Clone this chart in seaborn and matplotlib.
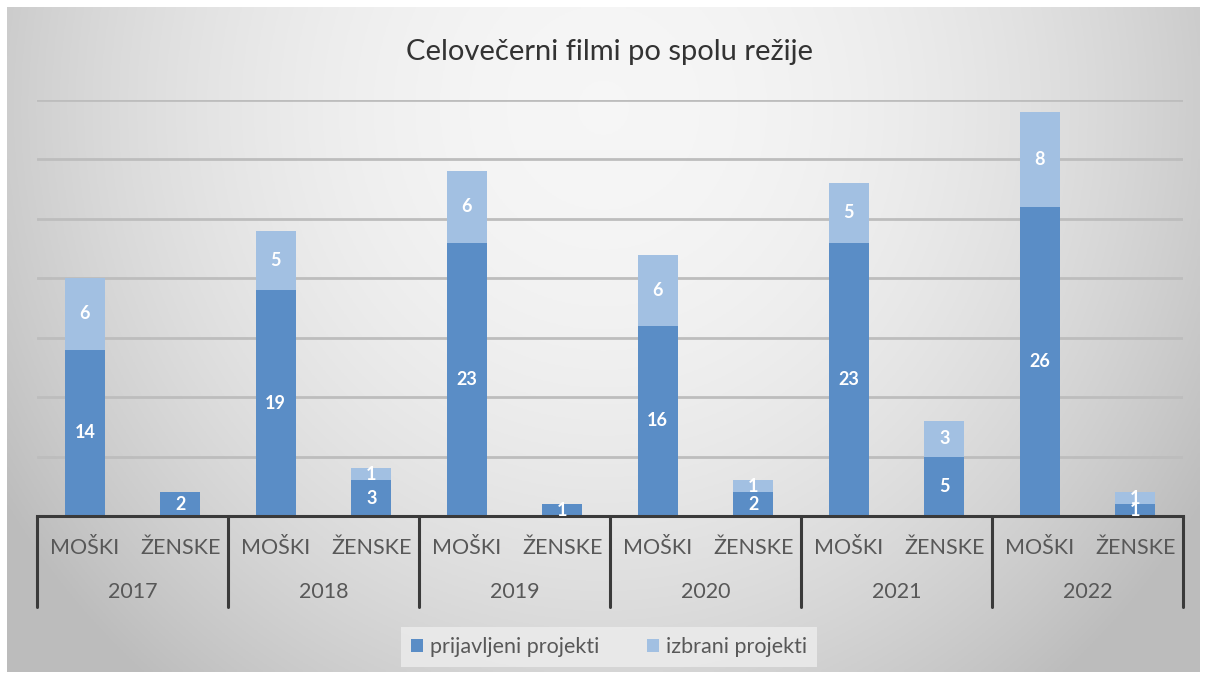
import numpy as np
import pandas as pd
import matplotlib
matplotlib.use("Agg")
import matplotlib.pyplot as plt
import seaborn as sns
from matplotlib.transforms import blended_transform_factory
from matplotlib.patches import Patch

years = ["2017", "2018", "2019", "2020", "2021", "2022"]
genders = ["MOŠKI", "ŽENSKE"]
prijavljeni = [14, 2, 19, 3, 23, 1, 16, 2, 23, 5, 26, 1]
izbrani = [6, 0, 5, 1, 6, 0, 6, 1, 5, 3, 8, 1]
title = "Celovečerni filmi po spolu režije"
series_names = ["prijavljeni projekti", "izbrani projekti"]

cats = [f"{y} {g}" for y in years for g in genders]
df = pd.DataFrame({"cat": cats, "prijavljeni": prijavljeni, "izbrani": izbrani})
df["total"] = df["prijavljeni"] + df["izbrani"]

dark = "#5A8DC6"
light = "#A2C0E2"

sns.set_theme(style="white")
plt.rcParams["font.family"] = ["Lato", "DejaVu Sans"]

W, H = 1207, 679
fig = plt.figure(figsize=(W / 100, H / 100), dpi=100, facecolor="white")

# gradient background
bg = fig.add_axes([7 / W, 7 / H, (1200 - 7) / W, (672 - 7) / H])
xx, yy = np.meshgrid(np.linspace(0, 1, 400), np.linspace(0, 1, 240))
r = np.sqrt(((xx - 0.5) / 0.5) ** 2 + ((yy - 0.15) / 0.95) ** 2)
g = np.clip(0.965 - 0.16 * r ** 2, 0.74, 1)
bg.imshow(np.dstack([g, g, g]), aspect="auto", extent=[0, 1, 0, 1], origin="upper")
bg.axis("off")

x0, x1 = 37, 1183
ybase, ytop = 516, 100
ax = fig.add_axes([x0 / W, 1 - ybase / H, (x1 - x0) / W, (ybase - ytop) / H])
ax.set_facecolor("none")

sns.barplot(data=df, x="cat", y="total", order=cats, color=light, width=0.42,
            saturation=1, ax=ax, zorder=3, edgecolor="none", linewidth=0)
sns.barplot(data=df, x="cat", y="prijavljeni", order=cats, color=dark, width=0.42,
            saturation=1, ax=ax, zorder=4, edgecolor="none", linewidth=0)

ax.set_ylim(0, 35)
ax.set_xlim(-0.5, len(cats) - 0.5)
ax.set_yticks(np.arange(0, 36, 5))
ax.yaxis.grid(True, color="#BDBDBD", linewidth=2, zorder=0)
ax.set_axisbelow(True)
ax.set_yticklabels([])
ax.tick_params(axis="y", length=0)
ax.set_xticks([])
ax.set_xlabel("")
ax.set_ylabel("")
for s in ["left", "right", "top"]:
    ax.spines[s].set_visible(False)
ax.spines["bottom"].set_color("#3A3A3A")
ax.spines["bottom"].set_linewidth(2.2)
ax.spines["bottom"].set_zorder(6)

# data labels
for i, (p, s) in enumerate(zip(prijavljeni, izbrani)):
    if p > 0:
        ax.text(i, p / 2, str(p), ha="center", va="center", color="white",
                fontsize=13, fontweight="bold", zorder=7)
    if s > 0:
        ax.text(i, p + s / 2, str(s), ha="center", va="center", color="white",
                fontsize=13, fontweight="bold", zorder=7)

# multi-level axis labels
tr = blended_transform_factory(ax.transData, fig.transFigure)
for i, c in enumerate(cats):
    ax.text(i, 1 - 548 / H, genders[i % 2], transform=tr, ha="center", va="center",
            fontsize=15.5, color="#585858")
for j, y in enumerate(years):
    ax.text(2 * j + 0.5, 1 - 592 / H, y, transform=tr, ha="center", va="center",
            fontsize=15.5, color="#585858")
for k in range(len(years) + 1):
    xb = 2 * k - 0.5
    ax.plot([xb, xb], [1 - ybase / H, 1 - 607 / H], transform=tr, color="#3A3A3A",
            linewidth=2.2, clip_on=False, zorder=6)

fig.text(609 / W, 1 - 52 / H, title, ha="center", va="center", fontsize=21,
         color="#333333")

handles = [Patch(facecolor=dark, edgecolor="none"), Patch(facecolor=light, edgecolor="none")]
leg = fig.legend(handles, series_names, loc="center", bbox_to_anchor=(609 / W, 1 - 647 / H),
                 ncol=2, frameon=True, fontsize=15.5, handlelength=0.55, handleheight=0.55,
                 handletextpad=0.35, columnspacing=2.2, borderpad=0.45, borderaxespad=0)
leg.get_frame().set_facecolor("#EDEDED")
leg.get_frame().set_edgecolor("none")
leg.get_frame().set_alpha(0.8)
leg.get_frame().set_boxstyle("square", pad=0)
for t in leg.get_texts():
    t.set_color("#585858")

fig.savefig("out.png", dpi=100, facecolor="white")
